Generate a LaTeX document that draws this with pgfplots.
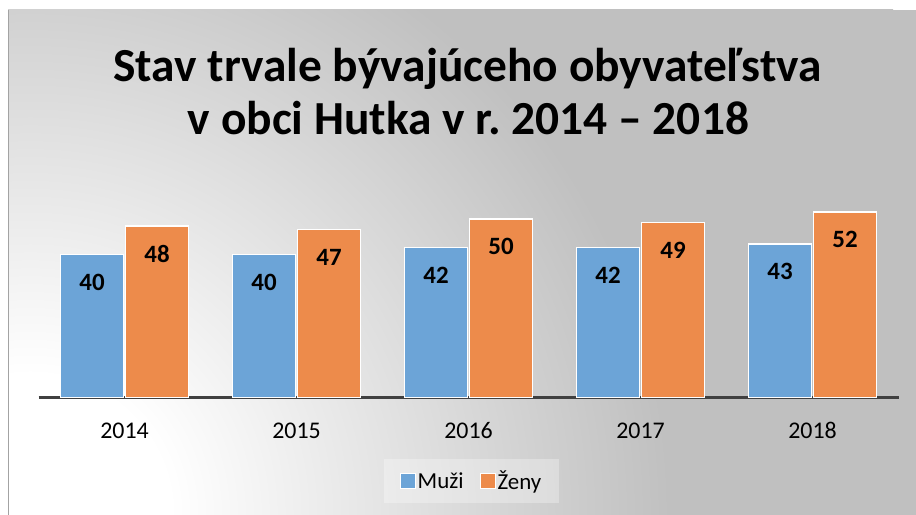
\documentclass[border=0pt]{standalone}
\usepackage{fontspec}
\setmainfont{Carlito}
\usepackage{pgfplots}
\pgfplotsset{compat=1.18}
\frenchspacing
\definecolor{bblue}{HTML}{6CA4D7}
\definecolor{borange}{HTML}{ED8B4B}
\definecolor{axgray}{HTML}{404040}
\definecolor{bggray}{HTML}{C0C0C0}
\pgfdeclareradialshading{bgshade}{\pgfpointorigin}{color(0bp)=(white); color(3.5bp)=(white); color(16bp)=(bggray); color(50bp)=(bggray)}
\begin{document}
\begin{tikzpicture}[x=1bp,y=1bp]
\useasboundingbox (0,0) rectangle (916,515);
\fill[white] (0,0) rectangle (916,515);
\begin{scope}
\clip (8,0) rectangle (916,505);
\fill[bggray] (8,0) rectangle (916,505);
\shade[shading=bgshade] (30bp,0bp) circle (1000bp);
\end{scope}
\draw[bggray!85!black, line width=1bp] (8.5,0) -- (8.5,505);
\begin{axis}[
  at={(38.5bp,117.3bp)}, anchor=south west,
  scale only axis, width=860bp, height=214.5bp,
  xmin=-0.5, xmax=4.5, ymin=0, ymax=60,
  axis x line*=bottom, axis y line=none,
  x axis line style={axgray, line width=3bp, -},
  xtick={0,1,2,3,4}, xticklabels={2014,2015,2016,2017,2018},
  ytick=\empty, major tick length=0pt,
  xticklabel style={font=\fontsize{24}{24}\selectfont, text=black, anchor=base, yshift=-41.3bp},
  ybar=2bp, bar width=63bp,
  clip=false,
  /pgf/number format/assume math mode=true,
  nodes near coords,
  every node near coord/.append style={font=\bfseries\fontsize{25}{25}\selectfont, anchor=base, yshift=-36bp, inner sep=0pt, text=black},
  legend columns=2,
  legend style={at={(0.5035,-0.39)}, anchor=center, draw=none, fill=white, fill opacity=0.3, text opacity=1,
    font=\fontsize{23}{23}\selectfont, inner xsep=16bp, inner ysep=10bp,
    /tikz/every even column/.append style={column sep=14bp}},
  legend image code/.code={\draw[#1, line width=1bp, fill opacity=1, draw opacity=1] (0bp,-7.5bp) rectangle (15bp,7.5bp);},
]
\addplot[fill=bblue, draw=white, line width=1.5bp] coordinates {(0,40) (1,40) (2,42) (3,42) (4,43)};
\addplot[fill=borange, draw=white, line width=1.5bp] coordinates {(0,48) (1,47) (2,50) (3,49) (4,52)};
\legend{Muži, Ženy}
\end{axis}
\node[font=\bfseries\fontsize{47.6}{47.6}\selectfont, anchor=base, inner sep=0pt] at (467.5, 433.3) {Stav trvale bývajúceho obyvateľstva};
\node[font=\bfseries\fontsize{47.6}{47.6}\selectfont, anchor=base, inner sep=0pt] at (468.5, 380) {v obci Hutka v r. 2014 – 2018};
\end{tikzpicture}
\end{document}
